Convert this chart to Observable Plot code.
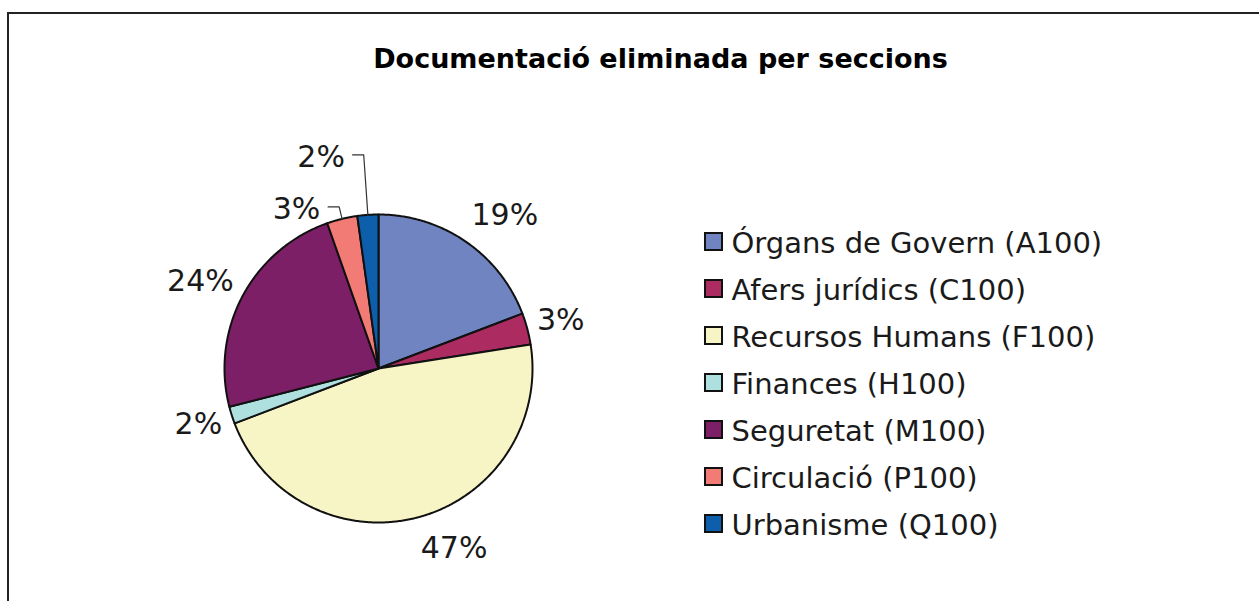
<!DOCTYPE html>
<html>
<head>
<meta charset="utf-8">
<script src="https://cdn.jsdelivr.net/npm/d3@7"></script>
<script src="https://cdn.jsdelivr.net/npm/@observablehq/plot@0.6"></script>
<style>
  html, body { margin: 0; padding: 0; background: #fff; }
  #wrap { position: relative; width: 1259px; height: 601px; overflow: hidden; font-family: "DejaVu Sans", Verdana, sans-serif; color: #111; }
  #frame { position: absolute; left: 7px; top: 12px; right: -20px; bottom: -20px; border-top: 2px solid #222; border-left: 2px solid #222; }
  #title { position: absolute; left: 0; top: 45px; width: 1321px; text-align: center; font-weight: bold; font-size: 27px; line-height: 27px; color: #000; white-space: nowrap; }
  .layer { position: absolute; left: 0; top: 0; }
</style>
</head>
<body>
<div id="wrap">
  <div id="frame"></div>
  <div id="title">Documentació eliminada per seccions</div>
</div>
<script>
// ---- data ----
const names = [
  "Órgans de Govern (A100)",
  "Afers jurídics (C100)",
  "Recursos Humans (F100)",
  "Finances (H100)",
  "Seguretat (M100)",
  "Circulació (P100)",
  "Urbanisme (Q100)"
];
const values = [19.2, 3.3, 46.7, 1.8, 23.6, 3.2, 2.2];
const colors = ["#6f84c1", "#ac2c62", "#f7f5c6", "#aee0e0", "#7c1f67", "#f27b76", "#0d5fac"];

// ---- layout config ----
const cx = 378, cy = 368, R = 154;
const leaderRadius = { "Circulació (P100)": 1.08, "Urbanisme (Q100)": 1.39 };
const hookLen = 0.072, hookGap = 0.05;

// ---- geometry from data ----
const total = d3.sum(values);
const pctFmt = d3.format(".0%");
let acc = 0;
const slices = values.map((v, i) => {
  const a0 = acc / total * 2 * Math.PI;
  acc += v;
  const a1 = acc / total * 2 * Math.PI;
  return { name: names[i], a0, a1, mid: (a0 + a1) / 2, label: pctFmt(v / total) };
});

const piePts = slices.flatMap(s => {
  const n = Math.max(2, Math.ceil((s.a1 - s.a0) / (Math.PI / 360)));
  const pts = [{ name: s.name, x: 0, y: 0 }];
  for (let k = 0; k <= n; k++) {
    const a = s.a0 + (s.a1 - s.a0) * k / n;
    pts.push({ name: s.name, x: Math.sin(a), y: Math.cos(a) });
  }
  return pts;
});

const direct = slices.filter(s => !(s.name in leaderRadius)).map(s => ({
  ...s, lx: Math.sin(s.mid) * 1.065, ly: Math.cos(s.mid) * 1.208, side: Math.sin(s.mid) >= 0 ? "start" : "end"
}));
const leadered = slices.filter(s => s.name in leaderRadius).map(s => {
  const r = leaderRadius[s.name];
  const ex = Math.sin(s.mid) * r, ey = Math.cos(s.mid) * r;
  return { ...s, ex, ey, hx: ex - hookLen, lx: ex - hookLen - hookGap, ly: ey };
});
const leaderPts = leadered.flatMap(s => [
  { name: s.name, x: Math.sin(s.mid), y: Math.cos(s.mid) },
  { name: s.name, x: s.ex, y: s.ey },
  { name: s.name, x: s.hx, y: s.ey }
]);

const textColor = "#1a1a1a";
const pie = Plot.plot({
  width: 1259, height: 601, margin: 0,
  x: { domain: [-1, 1], range: [cx - R, cx + R], axis: null },
  y: { domain: [-1, 1], range: [cy + R, cy - R], axis: null },
  color: { domain: names, range: colors },
  style: { background: "transparent", fontFamily: "'DejaVu Sans', Verdana, sans-serif", overflow: "visible" },
  marks: [
    Plot.line(piePts, { x: "x", y: "y", z: "name", fill: "name", stroke: "#111", strokeWidth: 2, curve: "linear-closed", strokeLinejoin: "round" }),
    Plot.line(leaderPts, { x: "x", y: "y", z: "name", stroke: "#333", strokeWidth: 1.2 }),
    Plot.text(direct.filter(d => d.side === "start"), { x: "lx", y: "ly", text: "label", textAnchor: "start", lineAnchor: "middle", fontSize: 30, fill: textColor }),
    Plot.text(direct.filter(d => d.side === "end"), { x: "lx", y: "ly", text: "label", textAnchor: "end", lineAnchor: "middle", fontSize: 30, fill: textColor }),
    Plot.text(leadered, { x: "lx", y: "ly", text: "label", textAnchor: "end", lineAnchor: "middle", dy: 2, fontSize: 30, fill: textColor })
  ]
});
pie.classList.add("layer");

const rowTop = 239, rowStep = 47.8;
const legend = Plot.plot({
  width: 1259, height: 601, margin: 0,
  x: { type: "identity", axis: null },
  y: { type: "point", domain: names, range: [rowTop, rowTop + rowStep * (names.length - 1)], padding: 0, axis: null },
  color: { domain: names, range: colors },
  style: { background: "transparent", fontFamily: "'DejaVu Sans', Verdana, sans-serif", overflow: "visible" },
  marks: [
    Plot.dot(names, { x: () => 713, y: d => d, fill: d => d, stroke: "#111", strokeWidth: 2, symbol: "square", r: 9.6 }),
    Plot.text(names, { x: () => 731, y: d => d, text: d => d, textAnchor: "start", lineAnchor: "middle", dy: 2, fontSize: 29, fill: textColor })
  ]
});
legend.classList.add("layer");

document.getElementById("wrap").appendChild(pie);
document.getElementById("wrap").appendChild(legend);
</script>
</body>
</html>
